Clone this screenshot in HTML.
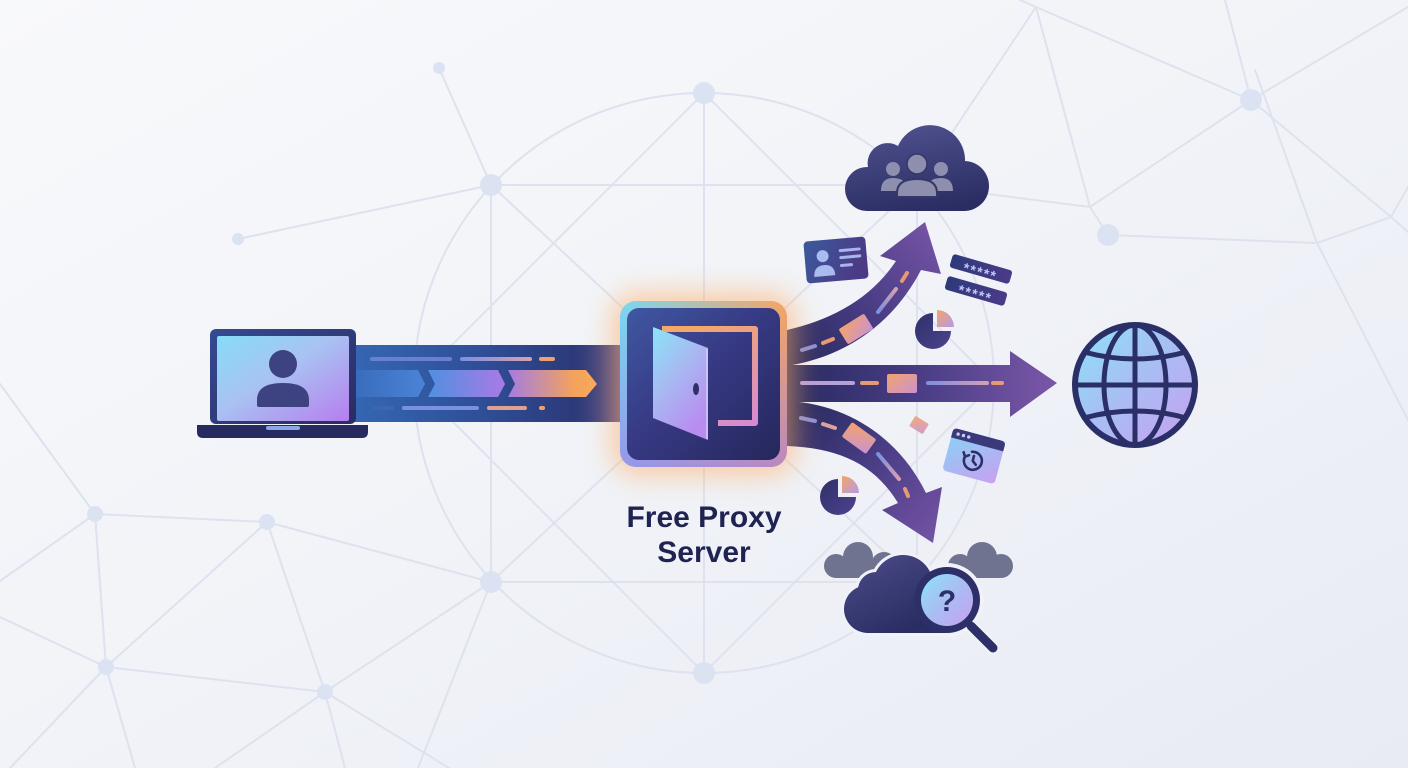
<!DOCTYPE html>
<html><head><meta charset="utf-8"><style>
html,body{margin:0;padding:0;width:1408px;height:768px;overflow:hidden;background:#f2f4f8}
svg{display:block}
</style></head><body>
<svg width="1408" height="768" viewBox="0 0 1408 768" xmlns="http://www.w3.org/2000/svg">
<defs>
<linearGradient id="bg" x1="0" y1="0" x2="1" y2="1"><stop offset="0" stop-color="#f8f9fb"/><stop offset="0.5" stop-color="#f1f3f8"/><stop offset="1" stop-color="#e8ebf4"/></linearGradient>
<linearGradient id="scr" x1="0" y1="0" x2="1" y2="1"><stop offset="0" stop-color="#86dcf7"/><stop offset="0.45" stop-color="#a9c2f2"/><stop offset="1" stop-color="#b67eee"/></linearGradient>
<linearGradient id="lapF" x1="0" y1="0" x2="1" y2="1"><stop offset="0" stop-color="#354a92"/><stop offset="1" stop-color="#2a2c62"/></linearGradient>
<linearGradient id="band" gradientUnits="userSpaceOnUse" x1="356" y1="0" x2="628" y2="0"><stop offset="0" stop-color="#3566b2"/><stop offset="0.45" stop-color="#2f4f98"/><stop offset="0.8" stop-color="#2c3a7a"/><stop offset="1" stop-color="#5a4f86"/></linearGradient>
<linearGradient id="ch1" x1="0" y1="0" x2="1" y2="0"><stop offset="0" stop-color="#3a6cbc"/><stop offset="1" stop-color="#4a84d6"/></linearGradient>
<linearGradient id="ch2" x1="0" y1="0" x2="1" y2="0"><stop offset="0" stop-color="#4f90e0"/><stop offset="1" stop-color="#a97ae6"/></linearGradient>
<linearGradient id="ch3" x1="0" y1="0" x2="1" y2="0"><stop offset="0" stop-color="#a47ce2"/><stop offset="0.75" stop-color="#f4a35c"/><stop offset="1" stop-color="#f8aa5a"/></linearGradient>
<linearGradient id="pbH" x1="0" y1="0" x2="1" y2="0"><stop offset="0" stop-color="#7ad8f2"/><stop offset="1" stop-color="#f6a562"/></linearGradient>
<linearGradient id="pbV" x1="0" y1="0" x2="0" y2="1"><stop offset="0" stop-color="#9a80e8" stop-opacity="0"/><stop offset="1" stop-color="#a07ce8" stop-opacity="0.7"/></linearGradient>
<linearGradient id="pIn" x1="0" y1="0" x2="1" y2="1"><stop offset="0" stop-color="#3f58a2"/><stop offset="0.45" stop-color="#373a84"/><stop offset="1" stop-color="#25275b"/></linearGradient>
<linearGradient id="door" x1="0" y1="0" x2="0.6" y2="1"><stop offset="0" stop-color="#8ae4f7"/><stop offset="0.5" stop-color="#a8b8f2"/><stop offset="1" stop-color="#b98cf0"/></linearGradient>
<linearGradient id="dfr" gradientUnits="userSpaceOnUse" x1="700" y1="327" x2="755" y2="423"><stop offset="0" stop-color="#f3a86a"/><stop offset="1" stop-color="#d58ad2"/></linearGradient>
<linearGradient id="aUp" gradientUnits="userSpaceOnUse" x1="787" y1="350" x2="930" y2="225"><stop offset="0" stop-color="#282b60"/><stop offset="0.5" stop-color="#4b3e86"/><stop offset="1" stop-color="#7553a5"/></linearGradient>
<linearGradient id="aMid" gradientUnits="userSpaceOnUse" x1="787" y1="0" x2="1057" y2="0"><stop offset="0" stop-color="#282b60"/><stop offset="0.45" stop-color="#463b82"/><stop offset="1" stop-color="#7a57a8"/></linearGradient>
<linearGradient id="aDn" gradientUnits="userSpaceOnUse" x1="787" y1="420" x2="935" y2="545"><stop offset="0" stop-color="#282b60"/><stop offset="0.5" stop-color="#4b3e86"/><stop offset="1" stop-color="#7553a5"/></linearGradient>
<linearGradient id="boxG" x1="0" y1="0" x2="1" y2="1"><stop offset="0" stop-color="#f4a36a"/><stop offset="1" stop-color="#c993d0"/></linearGradient>
<linearGradient id="dashG" x1="0" y1="0" x2="1" y2="0"><stop offset="0" stop-color="#7a90e2"/><stop offset="1" stop-color="#d8a0b0"/></linearGradient>
<linearGradient id="dashU" gradientUnits="userSpaceOnUse" x1="878" y1="312" x2="896" y2="289"><stop offset="0" stop-color="#7a90e2"/><stop offset="1" stop-color="#d8a0b0"/></linearGradient>
<linearGradient id="dashD" gradientUnits="userSpaceOnUse" x1="878" y1="454" x2="899" y2="479"><stop offset="0" stop-color="#7a90e2"/><stop offset="1" stop-color="#d8a0b0"/></linearGradient>
<linearGradient id="cloud" x1="0.3" y1="0" x2="0.6" y2="1"><stop offset="0" stop-color="#4f508e"/><stop offset="1" stop-color="#2a2d62"/></linearGradient>
<linearGradient id="cloud2" gradientUnits="userSpaceOnUse" x1="860" y1="555" x2="900" y2="633"><stop offset="0" stop-color="#4a4a88"/><stop offset="1" stop-color="#2a2d62"/></linearGradient>
<linearGradient id="globe" x1="0" y1="0" x2="1" y2="1"><stop offset="0" stop-color="#8de2f8"/><stop offset="0.5" stop-color="#a9bdf4"/><stop offset="1" stop-color="#c8a0f0"/></linearGradient>
<linearGradient id="card" x1="0" y1="0" x2="1" y2="0.4"><stop offset="0" stop-color="#3b5a9c"/><stop offset="1" stop-color="#4c3a86"/></linearGradient>
<linearGradient id="pw" x1="0" y1="0" x2="1" y2="0"><stop offset="0" stop-color="#2e3a7a"/><stop offset="1" stop-color="#4a3a88"/></linearGradient>
<linearGradient id="pie" x1="0" y1="0" x2="1" y2="1"><stop offset="0" stop-color="#2e3068"/><stop offset="1" stop-color="#4d4390"/></linearGradient>
<linearGradient id="slice" x1="0" y1="0" x2="1" y2="1"><stop offset="0" stop-color="#f2a46a"/><stop offset="1" stop-color="#b79ae6"/></linearGradient>
<linearGradient id="brw" x1="0" y1="0" x2="1" y2="1"><stop offset="0" stop-color="#86d4f6"/><stop offset="1" stop-color="#c8a0f0"/></linearGradient>
<filter id="blur" x="-50%" y="-50%" width="200%" height="200%"><feGaussianBlur stdDeviation="14"/></filter>
</defs>

<rect width="1408" height="768" fill="url(#bg)"/>

<circle cx="704" cy="383" r="290" fill="none" stroke="#dde2ee" stroke-width="2"/>
<path fill="none" stroke="#dde2ee" stroke-width="2" stroke-linecap="round" d="M491 185H917M491 582H917M491 185V582M917 185V582M704 93V673M491 185L917 582M491 582L917 185M704 93L414 383L704 673L994 383Z M491 185L439 68M491 185L238 239M491 582L267 522M491 582L325 692M491 582L418 768M95 514L267 522M95 514L106 667M95 514L0 581M95 514L0 384M267 522L106 667M267 522L325 692M106 667L325 692M0 617L106 667M106 667L10 768M106 667L135 768M325 692L215 768M325 692L345 768M325 692L449 768M1036 7L917 185M1036 7L1090 207L1108 235M1036 7L1020 0M917 185L1090 207M1036 7L1251 100M1225 0L1251 100M1251 100L1408 7M1251 100L1090 207M1251 100L1391 217M1255 70L1317 243M1108 235L1317 243L1391 217L1408 232M1391 217L1408 187M1317 243L1408 420"/>
<path fill="#dbe3f3" d="M693 93a11 11 0 1 0 22 0a11 11 0 1 0 -22 0M693 673a11 11 0 1 0 22 0a11 11 0 1 0 -22 0M480 185a11 11 0 1 0 22 0a11 11 0 1 0 -22 0M480 582a11 11 0 1 0 22 0a11 11 0 1 0 -22 0M1240 100a11 11 0 1 0 22 0a11 11 0 1 0 -22 0M1097 235a11 11 0 1 0 22 0a11 11 0 1 0 -22 0M433 68a6 6 0 1 0 12 0a6 6 0 1 0 -12 0M232 239a6 6 0 1 0 12 0a6 6 0 1 0 -12 0M87 514a8 8 0 1 0 16 0a8 8 0 1 0 -16 0M259 522a8 8 0 1 0 16 0a8 8 0 1 0 -16 0M98 667a8 8 0 1 0 16 0a8 8 0 1 0 -16 0M317 692a8 8 0 1 0 16 0a8 8 0 1 0 -16 0"/>

<rect x="354" y="345" width="274" height="77" fill="url(#band)"/>
<rect x="370" y="357" width="82" height="4" rx="2" fill="#6a7fd0"/>
<rect x="460" y="357" width="72" height="4" rx="2" fill="url(#dashG)"/>
<rect x="539" y="357" width="16" height="4" rx="2" fill="#f0a070"/>
<rect x="373" y="406" width="21" height="4" rx="2" fill="#3e65b0"/>
<rect x="402" y="406" width="77" height="4" rx="2" fill="#7a90e0"/>
<rect x="487" y="406" width="40" height="4" rx="2" fill="#e0a090"/>
<rect x="539" y="406" width="6" height="4" rx="2" fill="#f0a070"/>
<polygon points="356,370 418,370 425,384 418,397 356,397" fill="url(#ch1)"/>
<polygon points="428,370 498,370 505,384 498,397 428,397 435,384" fill="url(#ch2)"/>
<polygon points="508,370 586,370 597,384 586,397 508,397 515,384" fill="url(#ch3)"/>

<path d="M787,330 C830,320 870,300 896,261 L880,256 L925,222 L941,274 L921,270 C895,320 850,356 787,366 Z" fill="url(#aUp)"/>
<path d="M787,365 L1010,365 L1010,351 L1057,383 L1010,417 L1010,402 L787,402 Z" fill="url(#aMid)"/>
<path d="M787,401 C850,404 900,440 926,493 L942,487 L933,543 L882,510 L898,503 C875,465 840,448 787,446 Z" fill="url(#aDn)"/>

<path fill="none" stroke="#8b8fd6" stroke-width="4" stroke-linecap="round" d="M802 350L815 346M801 418L815 421"/>
<path fill="none" stroke="#e79a72" stroke-width="4" stroke-linecap="round" d="M823 343L833 339M902 281L907 273M905 489L908 496"/>
<path fill="none" stroke="#e0a0a0" stroke-width="4" stroke-linecap="round" d="M823 424L835 428"/>
<line x1="878" y1="312" x2="896" y2="289" stroke="url(#dashU)" stroke-width="4" stroke-linecap="round"/>
<line x1="878" y1="454" x2="899" y2="479" stroke="url(#dashD)" stroke-width="4" stroke-linecap="round"/>
<rect x="800" y="381" width="55" height="4" rx="2" fill="#b6a0d8"/>
<rect x="860" y="381" width="19" height="4" rx="2" fill="#e79a72"/>
<rect x="926" y="381" width="63" height="4" rx="2" fill="url(#dashG)"/>
<rect x="991" y="381" width="13" height="4" rx="2" fill="#e79a72"/>
<rect x="-15" y="-9" width="30" height="18" rx="2" transform="translate(856,329) rotate(-32)" fill="url(#boxG)"/>
<rect x="887" y="374" width="30" height="19" rx="2" fill="url(#boxG)"/>
<rect x="-15" y="-9" width="30" height="18" rx="2" transform="translate(859,438) rotate(36)" fill="url(#boxG)"/>

<rect x="612" y="293" width="183" height="182" rx="24" fill="#ffae68" opacity="0.6" filter="url(#blur)"/>

<rect x="620" y="301" width="167" height="166" rx="16" fill="url(#pbH)"/>
<rect x="620" y="301" width="167" height="166" rx="16" fill="url(#pbV)"/>
<rect x="627" y="308" width="153" height="152" rx="12" fill="url(#pIn)"/>
<polyline points="662,329 755,329 755,423 718,423" fill="none" stroke="url(#dfr)" stroke-width="6" stroke-linejoin="round"/>
<polygon points="653,327 708,348 708,440 653,418" fill="url(#door)"/>
<line x1="707" y1="349" x2="707" y2="439" stroke="#d8d0f8" stroke-width="2" opacity="0.7"/>
<ellipse cx="696" cy="389" rx="3" ry="6" fill="#2d2f66"/>

<text x="704" y="527" text-anchor="middle" font-family="Liberation Sans, sans-serif" font-weight="700" font-size="30" fill="#1f2352">Free Proxy</text>
<text x="704" y="562" text-anchor="middle" font-family="Liberation Sans, sans-serif" font-weight="700" font-size="30" fill="#1f2352">Server</text>

<rect x="210" y="329" width="146" height="95" rx="6" fill="url(#lapF)"/>
<rect x="217" y="336" width="132" height="85" rx="2" fill="url(#scr)"/>
<path d="M197,425 L368,425 L368,432 Q368,438 362,438 L203,438 Q197,438 197,432 Z" fill="#262a5e"/>
<rect x="266" y="426" width="34" height="4" rx="2" fill="#8aa8e8"/>
<circle cx="283" cy="364" r="14" fill="#3d4380"/>
<path d="M257,405 L257,400 Q257,383 283,383 Q309,383 309,400 L309,405 Q309,407 307,407 L259,407 Q257,407 257,405 Z" fill="#3d4380"/>

<path d="M845,189 A22,22 0 0 1 868,167 A20,20 0 0 1 898,146 A35,35 0 0 1 965,161 A25,25 0 0 1 989,186 A25,25 0 0 1 964,211 L867,211 A22,22 0 0 1 845,189 Z" fill="url(#cloud)"/>
<path fill="#8e8fae" d="M881,191 Q881,178 893,178 Q902,178 905,183 L905,191 Z M953,191 Q953,178 941,178 Q932,178 929,183 L929,191 Z"/>
<circle cx="893" cy="169" r="7" fill="#8e8fae"/>
<circle cx="941" cy="169" r="7" fill="#8e8fae"/>
<path d="M897,197 L897,193 Q897,179 917,179 Q937,179 937,193 L937,197 Z" fill="#8e8fae" stroke="#353768" stroke-width="2"/>
<circle cx="917" cy="164" r="10" fill="#8e8fae" stroke="#353768" stroke-width="1.5"/>

<g transform="translate(836,260) rotate(-5)">
<rect x="-31" y="-21" width="62" height="42" rx="4" fill="url(#card)"/>
<circle cx="-13" cy="-5" r="6" fill="#a8bcf0"/>
<path d="M-23,15 Q-23,4 -12.5,4 Q-2,4 -2,15 Z" fill="#a8bcf0"/>
<path fill="none" stroke="#aab4ec" stroke-width="3" stroke-linecap="round" d="M5 -9H24M5 -2H24M5 6H15"/>
</g>

<g transform="translate(981,269) rotate(16)">
<rect x="-31" y="-7" width="62" height="14" rx="3" fill="url(#pw)"/>
<text x="0" y="8" text-anchor="middle" font-family="Liberation Sans, sans-serif" font-weight="700" font-size="14" letter-spacing="1.5" fill="#c0c8f4">*****</text>
</g>
<g transform="translate(976,291) rotate(16)">
<rect x="-31" y="-7" width="62" height="14" rx="3" fill="url(#pw)"/>
<text x="0" y="8" text-anchor="middle" font-family="Liberation Sans, sans-serif" font-weight="700" font-size="14" letter-spacing="1.5" fill="#c0c8f4">*****</text>
</g>

<path d="M933,331 L951,331 A18,18 0 1 1 933,313 Z" fill="url(#pie)"/>
<path d="M937,327 L937,310 A17,17 0 0 1 954,327 Z" fill="url(#slice)"/>
<path d="M838,497 L856,497 A18,18 0 1 1 838,479 Z" fill="url(#pie)"/>
<path d="M842,493 L842,476 A17,17 0 0 1 859,493 Z" fill="url(#slice)"/>

<rect x="-8" y="-6" width="16" height="12" rx="1.5" transform="translate(919,425) rotate(32)" fill="url(#boxG)" opacity="0.9"/>

<g transform="translate(974,456) rotate(15)">
<rect x="-27" y="-22" width="54" height="44" rx="4" fill="url(#brw)"/>
<path d="M-27,-18 Q-27,-22 -23,-22 L23,-22 Q27,-22 27,-18 L27,-12 L-27,-12 Z" fill="#3a3a7a"/>
<circle cx="-21" cy="-17" r="1.7" fill="#c8d0f8"/>
<circle cx="-15.5" cy="-17" r="1.7" fill="#c8d0f8"/>
<circle cx="-10" cy="-17" r="1.7" fill="#c8d0f8"/>
<path fill="none" stroke="#2d3068" stroke-width="2.6" stroke-linecap="round" stroke-linejoin="round" d="M-8.5,2.5 A9,9 0 1 0 -3,-3.5 M-11,-1 L-8.5,3 L-5,0.5 M0,0 L0,5 L4,8"/>
</g>

<circle cx="1135" cy="385" r="60" fill="url(#globe)" stroke="#2b2f68" stroke-width="6"/>
<ellipse cx="1135" cy="385" rx="31" ry="60" fill="none" stroke="#2b2f68" stroke-width="5"/>
<path fill="none" stroke="#2b2f68" stroke-width="5" d="M1135 325V445M1075 385H1195M1084,352 Q1135,366 1186,352M1084,418 Q1135,404 1186,418"/>

<g fill="#6f7390">
<circle cx="836" cy="566" r="12"/>
<circle cx="858" cy="557" r="15"/>
<circle cx="884" cy="565" r="13"/>
<rect x="836" y="562" width="50" height="16"/>
<circle cx="960" cy="566" r="12"/>
<circle cx="982" cy="557" r="15"/>
<circle cx="1001" cy="566" r="12"/>
<rect x="960" y="562" width="41" height="16"/>
</g>
<g fill="#f0f2f8">
<circle cx="868" cy="609" r="27"/>
<circle cx="903" cy="585" r="33"/>
<circle cx="876" cy="590" r="21"/>
<rect x="865" y="587" width="83" height="49"/>
<circle cx="947" cy="600" r="37"/>
</g>
<g fill="url(#cloud2)">
<circle cx="868" cy="609" r="24"/>
<circle cx="903" cy="585" r="30"/>
<circle cx="876" cy="590" r="18"/>
<rect x="868" y="590" width="78" height="43"/>
</g>
<line x1="971" y1="626" x2="993" y2="648" stroke="#f0f2f8" stroke-width="13" stroke-linecap="round"/>
<line x1="971" y1="626" x2="993" y2="648" stroke="#2d3068" stroke-width="9" stroke-linecap="round"/>
<circle cx="947" cy="600" r="33" fill="#2d3068"/>
<circle cx="947" cy="600" r="26" fill="url(#globe)"/>
<text x="947" y="611" text-anchor="middle" font-family="Liberation Sans, sans-serif" font-weight="700" font-size="30" fill="#2d3068">?</text>
</svg>
</body></html>
